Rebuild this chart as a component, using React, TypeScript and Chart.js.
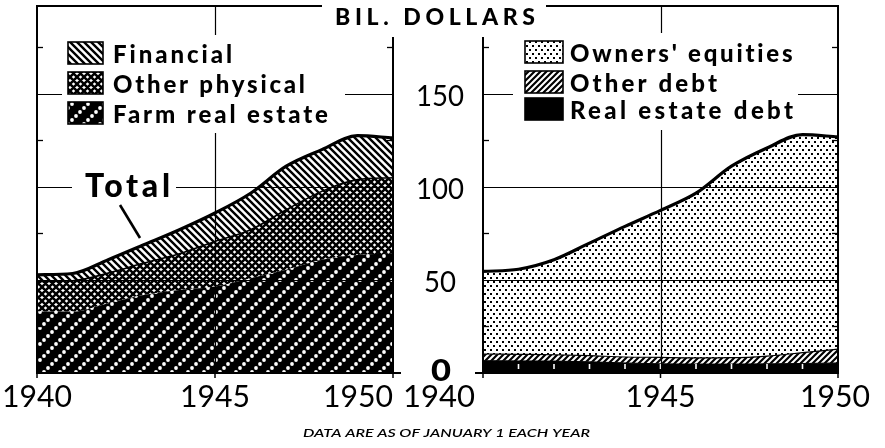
import React, { useEffect, useRef } from 'react';
import { Chart, registerables } from 'chart.js';

Chart.register(...registerables);

// ---------- data (billions of dollars, January 1) ----------
const years = ['1940', '1941', '1942', '1943', '1944', '1945', '1946', '1947', '1948', '1949', '1950'];
const farmRealEstate = [33.0, 33.0, 37.5, 41.9, 44.6, 46.4, 50.9, 55.4, 60.8, 63.4, 64.0];
const otherPhysical = [16.1, 16.5, 16.1, 17.1, 19.4, 24.2, 26.0, 32.2, 36.7, 40.4, 40.8];
const financial = [3.6, 3.9, 7.2, 9.8, 12.9, 15.3, 19.6, 23.4, 22.4, 23.6, 21.4];
const realEstateDebt = [6.6, 6.5, 6.4, 6.0, 5.4, 4.9, 4.8, 4.8, 4.9, 5.1, 5.4];
const otherDebt = [3.6, 3.5, 3.4, 3.3, 3.2, 3.5, 3.3, 3.4, 4.2, 5.8, 7.4];
const ownersEquities = [44.3, 45.7, 51.0, 60.4, 70.1, 78.9, 88.4, 102.8, 111.7, 117.1, 113.9];

const yTicks = [0, 50, 100, 150];
const yMinorTicks = [25, 75, 125, 175];
const xLabelYears = ['1940', '1945', '1950'];
const leftLegend = ['Financial', 'Other physical', 'Farm real estate'];
const rightLegend = ["Owners' equities", 'Other debt', 'Real estate debt'];
const unitTitle = 'BIL. DOLLARS';
const footNote = 'DATA ARE AS OF JANUARY 1 EACH YEAR';
const totalLabel = 'Total';

// ---------- layout ----------
const W = 885;
const H = 448;
const Y_MAX = 197;
const LEFT_AREA = { left: 37, right: 393, top: 6, bottom: 373 };
const RIGHT_AREA = { left: 483, right: 838, top: 6, bottom: 373 };
const FONT = 'Lato, "Open Sans", "DejaVu Sans", sans-serif';

// ---------- pattern helpers ----------
function tile(ctx: CanvasRenderingContext2D, w: number, h: number, draw: (g: CanvasRenderingContext2D) => void) {
  const c = document.createElement('canvas');
  c.width = w;
  c.height = h;
  const g = c.getContext('2d') as CanvasRenderingContext2D;
  draw(g);
  return ctx.createPattern(c, 'repeat') as CanvasPattern;
}

function hatchLines(g: CanvasRenderingContext2D, s: number, lw: number, dirs: string[]) {
  g.fillStyle = '#fff';
  g.fillRect(0, 0, s, s);
  g.strokeStyle = '#000';
  g.lineWidth = lw;
  g.beginPath();
  for (const d of dirs) {
    for (let k = -1; k <= 1; k++) {
      if (d === 'back') {
        g.moveTo(k * s - 1, -1);
        g.lineTo(k * s + s + 1, s + 1);
      } else {
        g.moveTo(k * s - 1, s + 1);
        g.lineTo(k * s + s + 1, -1);
      }
    }
  }
  g.stroke();
}

function makePatterns(ctx: CanvasRenderingContext2D) {
  const diag = tile(ctx, 7, 7, (g) => hatchLines(g, 7, 2.4, ['back']));
  const cross = tile(ctx, 7, 7, (g) => hatchLines(g, 7, 2.5, ['back', 'fwd']));
  const S = 16;
  const farm = tile(ctx, S, S, (g) => {
    g.fillStyle = '#000';
    g.fillRect(0, 0, S, S);
    g.fillStyle = '#fff';
    for (const t of [0, 4, 8, 12]) {
      for (const dx of [-S, 0, S]) {
        for (const dy of [-S, 0, S]) {
          g.beginPath();
          g.arc(t + dx, S - t + dy, 1.9, 0, Math.PI * 2);
          g.fill();
        }
      }
    }
  });
  const dots = tile(ctx, 6, 8, (g) => {
    g.fillStyle = '#fff';
    g.fillRect(0, 0, 6, 8);
    g.fillStyle = '#000';
    g.fillRect(1, 1, 2, 2);
    g.fillRect(4, 5, 2, 2);
  });
  const fwd = tile(ctx, 6, 6, (g) => hatchLines(g, 6, 2.2, ['fwd']));
  return { diag, cross, farm, dots, fwd, solid: '#000' };
}

// ---------- text helpers ----------
function spacedText(ctx: CanvasRenderingContext2D, text: string, x: number, y: number, width: number, font: string) {
  ctx.font = font;
  (ctx as any).letterSpacing = '0px';
  const w0 = ctx.measureText(text).width;
  const ls = text.length > 1 ? (width - w0) / (text.length - 1) : 0;
  (ctx as any).letterSpacing = ls.toFixed(2) + 'px';
  ctx.textAlign = 'left';
  ctx.textBaseline = 'alphabetic';
  ctx.fillText(text, x, y);
  (ctx as any).letterSpacing = '0px';
}

function fittedText(ctx: CanvasRenderingContext2D, text: string, x: number, y: number, width: number, font: string, align: CanvasTextAlign) {
  ctx.font = font;
  (ctx as any).letterSpacing = '0px';
  const w0 = ctx.measureText(text).width;
  const s = width / w0;
  ctx.save();
  ctx.translate(x, y);
  ctx.scale(s, 1);
  ctx.textAlign = align;
  ctx.textBaseline = 'alphabetic';
  ctx.fillText(text, 0, 0);
  ctx.restore();
}

function line(ctx: CanvasRenderingContext2D, x1: number, y1: number, x2: number, y2: number) {
  ctx.beginPath();
  ctx.moveTo(x1, y1);
  ctx.lineTo(x2, y2);
  ctx.stroke();
}

function drawPanelFrame(chart: any, extendLeft: number, extendRight: number) {
  const { ctx, chartArea: a, scales } = chart;
  const x = scales.x;
  const y = scales.y;
  ctx.save();
  ctx.strokeStyle = '#000';
  ctx.lineWidth = 1.2;
  for (const v of yTicks) {
    if (v === 0) continue;
    const py = Math.round(y.getPixelForValue(v)) + 0.5;
    line(ctx, a.left, py, a.right, py);
  }
  const vx = Math.round(x.getPixelForValue(years.indexOf('1945'))) + 0.5;
  line(ctx, vx, a.top, vx, a.bottom);
  ctx.lineWidth = 1.3;
  for (const v of yMinorTicks) {
    const py = Math.round(y.getPixelForValue(v)) + 0.5;
    line(ctx, a.left, py, a.left + 6, py);
    line(ctx, a.right - 6, py, a.right, py);
  }
  ctx.lineWidth = 2;
  ctx.strokeRect(a.left, a.top, a.right - a.left, a.bottom - a.top);
  line(ctx, a.left - extendLeft, a.bottom, a.right + extendRight, a.bottom);
  ctx.lineWidth = 1.5;
  for (const yr of xLabelYears) {
    const px = x.getPixelForValue(years.indexOf(yr));
    line(ctx, px, a.bottom, px, a.bottom + 5);
  }
  ctx.restore();
}

function drawLegend(ctx: CanvasRenderingContext2D, box: number[], items: string[], fills: any[], sw: number[], rows: number[], textX: number, widths: number[]) {
  ctx.save();
  ctx.fillStyle = '#fff';
  ctx.fillRect(box[0], box[1], box[2], box[3]);
  items.forEach((label, i) => {
    const base = rows[i];
    ctx.fillStyle = fills[i];
    ctx.fillRect(sw[0], base - 21, sw[1], 22);
    ctx.strokeStyle = '#000';
    ctx.lineWidth = 1.6;
    ctx.strokeRect(sw[0], base - 21, sw[1], 22);
    ctx.fillStyle = '#000';
    spacedText(ctx, label, textX, base, widths[i], `900 24px ${FONT}`);
  });
  ctx.restore();
}

export default function App() {
  const leftRef = useRef<HTMLCanvasElement>(null);
  const rightRef = useRef<HTMLCanvasElement>(null);

  useEffect(() => {
    const lc = leftRef.current as HTMLCanvasElement;
    const rc = rightRef.current as HTMLCanvasElement;
    const lp = makePatterns(lc.getContext('2d') as CanvasRenderingContext2D);
    const rp = makePatterns(rc.getContext('2d') as CanvasRenderingContext2D);

    const baseOptions = (area: any) => ({
      responsive: false,
      animation: false as const,
      events: [] as any[],
      layout: { padding: { left: area.left, right: W - area.right, top: area.top, bottom: H - area.bottom } },
      plugins: { legend: { display: false }, tooltip: { enabled: false }, title: { display: false } },
      elements: { point: { radius: 0 }, line: { cubicInterpolationMode: 'monotone' as const } },
      scales: {
        x: { type: 'category' as const, display: false },
        y: { display: false, stacked: true, min: 0, max: Y_MAX },
      },
    });

    const leftDeco = {
      id: 'leftDeco',
      afterDatasetsDraw(chart: any) {
        const { ctx, scales } = chart;
        drawPanelFrame(chart, 0, 8);
        drawLegend(ctx, [62, 35, 283, 98], leftLegend, [lp.diag, lp.cross, lp.farm], [68, 35], [63, 93, 123], 113, [119, 192, 215]);
        ctx.save();
        ctx.fillStyle = '#fff';
        ctx.fillRect(72, 166, 104, 36);
        ctx.fillStyle = '#000';
        spacedText(ctx, totalLabel, 85, 197, 85, `900 32px ${FONT}`);
        ctx.strokeStyle = '#000';
        ctx.lineWidth = 2.6;
        line(ctx, 120, 205, 140, 238);
        ctx.restore();
        ctx.save();
        ctx.fillStyle = '#000';
        const f = `31px ${FONT}`;
        const x = scales.x;
        const p = (yr: string) => x.getPixelForValue(years.indexOf(yr));
        fittedText(ctx, xLabelYears[0], p(xLabelYears[0]), 407, 70, f, 'center');
        fittedText(ctx, xLabelYears[1], p(xLabelYears[1]), 407, 70, f, 'center');
        fittedText(ctx, xLabelYears[2], p(xLabelYears[2]), 407, 70, f, 'right');
        ctx.restore();
      },
    };

    const rightDeco = {
      id: 'rightDeco',
      afterDatasetsDraw(chart: any) {
        const { ctx, chartArea: a, scales } = chart;
        ctx.save();
        ctx.strokeStyle = '#fff';
        ctx.lineWidth = 1.6;
        for (let i = 1; i < years.length - 1; i++) {
          const px = scales.x.getPixelForValue(i);
          line(ctx, px, a.bottom - 9, px, a.bottom - 4);
        }
        ctx.restore();
        drawPanelFrame(chart, 8, 0);
        drawLegend(ctx, [513, 33, 285, 97], rightLegend, [rp.dots, rp.fwd, rp.solid], [525, 38], [62, 92, 119], 570, [223, 147, 223]);
        ctx.save();
        ctx.fillStyle = '#fff';
        ctx.fillRect(322, 0, 224, 37);
        ctx.fillStyle = '#000';
        spacedText(ctx, unitTitle, 335, 25, 200, `900 23px ${FONT}`);
        for (const v of yTicks) {
          const py = scales.y.getPixelForValue(v);
          if (v === 0) {
            fittedText(ctx, String(v), 441, py + 8, 20, `900 30px ${FONT}`, 'center');
          } else {
            const w = String(v).length * 16;
            fittedText(ctx, String(v), 440, py + 12, w, `28px ${FONT}`, 'center');
          }
        }
        const f = `31px ${FONT}`;
        const x = scales.x;
        const p = (yr: string) => x.getPixelForValue(years.indexOf(yr));
        fittedText(ctx, xLabelYears[0], p(xLabelYears[0]) - 8, 407, 72, f, 'right');
        fittedText(ctx, xLabelYears[1], p(xLabelYears[1]), 407, 70, f, 'center');
        fittedText(ctx, xLabelYears[2], p(xLabelYears[2]) - 3, 407, 70, f, 'center');
        fittedText(ctx, footNote, 303, 437, 287, `italic 600 12px ${FONT}`, 'left');
        ctx.restore();
      },
    };

    const left = new Chart(lc, {
      type: 'line',
      data: {
        labels: years,
        datasets: [
          { label: 'Farm real estate', data: farmRealEstate, backgroundColor: lp.farm, borderColor: 'rgba(0,0,0,0)', borderWidth: 1, fill: 'origin' },
          { label: 'Other physical', data: otherPhysical, backgroundColor: lp.cross, borderColor: '#000', borderWidth: 1.6, fill: '-1' },
          { label: 'Financial', data: financial, backgroundColor: lp.diag, borderColor: '#000', borderWidth: 3.2, fill: '-1' },
        ],
      },
      options: baseOptions(LEFT_AREA) as any,
      plugins: [leftDeco],
    });

    const right = new Chart(rc, {
      type: 'line',
      data: {
        labels: years,
        datasets: [
          { label: 'Real estate debt', data: realEstateDebt, backgroundColor: '#000', borderColor: '#000', borderWidth: 1, fill: 'origin' },
          { label: 'Other debt', data: otherDebt, backgroundColor: rp.fwd, borderColor: '#000', borderWidth: 1.2, fill: '-1' },
          { label: "Owners' equities", data: ownersEquities, backgroundColor: rp.dots, borderColor: '#000', borderWidth: 3.2, fill: '-1' },
        ],
      },
      options: baseOptions(RIGHT_AREA) as any,
      plugins: [rightDeco],
    });

    return () => {
      left.destroy();
      right.destroy();
    };
  }, []);

  return (
    <div style={{ position: 'absolute', left: 0, top: 0, width: W, height: H, background: '#fff', overflow: 'hidden' }}>
      <canvas ref={leftRef} width={W} height={H} style={{ position: 'absolute', left: 0, top: 0, width: W, height: H }} />
      <canvas ref={rightRef} width={W} height={H} style={{ position: 'absolute', left: 0, top: 0, width: W, height: H }} />
    </div>
  );
}
